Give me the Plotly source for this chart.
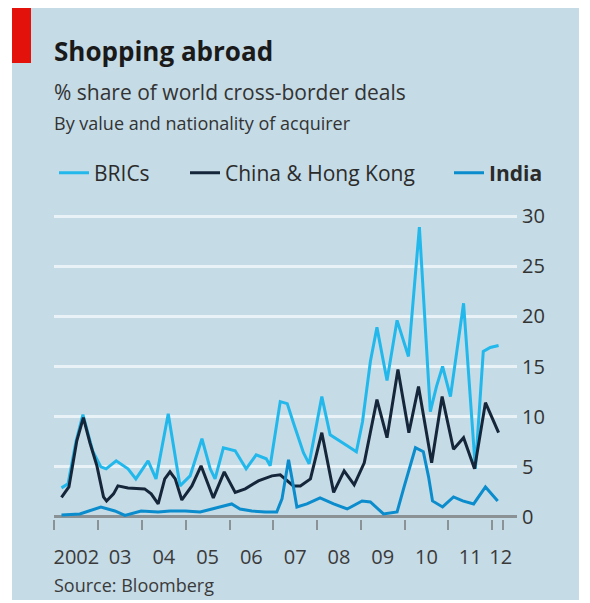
import plotly.graph_objects as go

# ---------------- data ----------------
t_brics = [2002.16, 2002.31, 2002.49, 2002.65, 2002.88, 2003.06, 2003.18, 2003.41, 2003.68, 2003.86,
           2004.14, 2004.32, 2004.60, 2004.76, 2004.87, 2005.10, 2005.37, 2005.56, 2005.67, 2005.86,
           2006.13, 2006.38, 2006.61, 2006.84, 2006.93, 2007.16, 2007.32, 2007.46, 2007.69, 2007.82,
           2008.11, 2008.30, 2008.53, 2008.69, 2008.90, 2009.04, 2009.22, 2009.37, 2009.60, 2009.83,
           2010.09, 2010.34, 2010.59, 2010.73, 2010.87, 2011.05, 2011.35, 2011.62, 2011.80, 2011.96,
           2012.15]
brics = [2.9, 3.3, 7.5, 10.2, 6.5, 5.0, 4.8, 5.6, 4.8, 3.8,
         5.6, 3.8, 10.3, 5.8, 3.1, 4.1, 7.8, 4.8, 3.8, 6.9,
         6.6, 4.8, 6.2, 5.8, 5.1, 11.5, 11.3, 9.4, 6.4, 5.3,
         12.0, 8.2, 7.6, 7.1, 6.5, 9.5, 15.5, 18.9, 13.6, 19.6,
         16.0, 28.9, 10.5, 13.0, 15.0, 12.0, 21.3, 4.8, 16.5, 16.9,
         17.1]

t_china = [2002.16, 2002.33, 2002.51, 2002.66, 2002.81, 2002.97, 2003.12, 2003.19, 2003.35, 2003.45,
           2003.68, 2004.06, 2004.21, 2004.37, 2004.52, 2004.64, 2004.76, 2004.91, 2005.14, 2005.35,
           2005.63, 2005.88, 2006.13, 2006.36, 2006.66, 2006.97, 2007.16, 2007.32, 2007.46, 2007.62,
           2007.85, 2008.11, 2008.38, 2008.62, 2008.85, 2009.08, 2009.37, 2009.60, 2009.85, 2010.10,
           2010.32, 2010.62, 2010.86, 2011.12, 2011.35, 2011.60, 2011.85, 2012.15]
china = [1.95, 3.0, 7.6, 9.9, 7.4, 5.1, 2.0, 1.6, 2.3, 3.1,
         2.9, 2.8, 2.3, 1.3, 3.8, 4.5, 3.8, 1.7, 3.1, 5.1,
         1.9, 4.5, 2.45, 2.8, 3.6, 4.1, 4.2, 3.6, 3.1, 3.1,
         3.8, 8.4, 2.45, 4.6, 3.2, 5.4, 11.7, 7.9, 14.7, 8.4,
         13.0, 5.4, 12.0, 6.75, 7.9, 4.8, 11.4, 8.4]

t_india = [2002.16, 2002.58, 2003.06, 2003.38, 2003.61, 2003.98, 2004.37, 2004.64, 2004.99, 2005.33,
           2005.60, 2006.05, 2006.24, 2006.51, 2006.82, 2007.08, 2007.20, 2007.35, 2007.43, 2007.54,
           2007.77, 2008.07, 2008.38, 2008.69, 2009.03, 2009.22, 2009.52, 2009.83, 2009.99, 2010.25,
           2010.43, 2010.55, 2010.64, 2010.87, 2011.12, 2011.33, 2011.58, 2011.85, 2012.13]
india = [0.2, 0.3, 1.0, 0.6, 0.15, 0.6, 0.5, 0.6, 0.6, 0.5,
         0.8, 1.3, 0.8, 0.6, 0.5, 0.5, 1.8, 5.7, 3.8, 1.0,
         1.3, 1.9, 1.3, 0.8, 1.6, 1.5, 0.3, 0.5, 3.0, 6.9,
         6.5, 4.0, 1.6, 1.0, 2.0, 1.6, 1.3, 3.0, 1.6]

year_ticks = [2002, 2003, 2004, 2005, 2006, 2007, 2008, 2009, 2010, 2011, 2012, 2012.25]
label_pos = [2002.5, 2003.5, 2004.5, 2005.5, 2006.5, 2007.5, 2008.5, 2009.5, 2010.5, 2011.5, 2012.2]
label_text = ["2002", "03", "04", "05", "06", "07", "08", "09", "10", "11", "12"]
y_ticks = [0, 5, 10, 15, 20, 25, 30]

# ---------------- styling ----------------
PANEL = "#c5dbe6"
C_BRICS = "#22b8eb"
C_CHINA = "#15263a"
C_INDIA = "#0b8ccc"
GRID = "#e9f2f6"
AXIS = "#8b9296"
FONT = "Open Sans"

fig = go.Figure()
fig.add_trace(go.Scatter(x=t_brics, y=brics, mode="lines", name="BRICs",
                         line=dict(color=C_BRICS, width=3), legend="legend"))
fig.add_trace(go.Scatter(x=t_china, y=china, mode="lines", name="China & Hong Kong",
                         line=dict(color=C_CHINA, width=3), legend="legend2"))
fig.add_trace(go.Scatter(x=t_india, y=india, mode="lines", name="<b>India</b>",
                         line=dict(color=C_INDIA, width=3), legend="legend3"))
# invisible trace to carry the label axis
fig.add_trace(go.Scatter(x=label_pos, y=[None] * len(label_pos), xaxis="x2", showlegend=False,
                         hoverinfo="skip"))

# page body has an 8px margin: reference pixel (px, py) -> paper coords
def px_x(px):
    return (px - 54) / 463

def px_y(py):
    return (519 - py) / 306

leg_common = dict(orientation="h", yanchor="middle", xanchor="left", bgcolor="rgba(0,0,0,0)",
                  font=dict(family=FONT, size=21, color="#2b2b2b"), itemwidth=30)

fig.update_layout(
    width=582, height=595,
    margin=dict(l=46, r=73, t=205, b=84),
    paper_bgcolor="white", plot_bgcolor=PANEL,
    font=dict(family=FONT, color="#333"),
    showlegend=True,
    legend=dict(x=px_x(54), y=px_y(173), **leg_common),
    legend2=dict(x=px_x(185), y=px_y(173), **leg_common),
    legend3=dict(x=px_x(449), y=px_y(173), **leg_common),
    xaxis=dict(range=[2001.989, 2012.571], tickvals=year_ticks, ticks="outside", ticklen=10,
               tickwidth=2, tickcolor=AXIS, showticklabels=False, showgrid=False,
               zeroline=False, showline=False, fixedrange=True),
    xaxis2=dict(range=[2001.989, 2012.571], overlaying="x", anchor="y", side="bottom",
                tickvals=label_pos, ticktext=label_text, ticks="", showgrid=False,
                zeroline=False, showline=False, ticklabelstandoff=24,
                tickfont=dict(family=FONT, size=20, color="#3a3a3a"), fixedrange=True),
    yaxis=dict(range=[-0.2, 30.3], side="right", tickvals=y_ticks, ticks="",
               showgrid=True, gridcolor=GRID, gridwidth=3,
               zeroline=True, zerolinecolor=AXIS, zerolinewidth=3, showline=False,
               ticklabelstandoff=4, tickfont=dict(family=FONT, size=20, color="#333"),
               fixedrange=True),
    shapes=[
        dict(type="rect", xref="paper", yref="paper", x0=px_x(12), x1=px_x(579),
             y0=px_y(600), y1=px_y(8), fillcolor=PANEL, line=dict(width=0), layer="below"),
        dict(type="rect", xref="paper", yref="paper", x0=px_x(12), x1=px_x(31),
             y0=px_y(63), y1=px_y(8), fillcolor="#e3120b", line=dict(width=0), layer="below"),
    ],
    annotations=[
        dict(text="<b>Shopping abroad</b>", x=px_x(52), y=px_y(51), xref="paper", yref="paper",
             xanchor="left", yanchor="middle", showarrow=False,
             font=dict(family=FONT, size=26, color="#1a1a1a")),
        dict(text="% share of world cross-border deals", x=px_x(52), y=px_y(92), xref="paper",
             yref="paper", xanchor="left", yanchor="middle", showarrow=False,
             font=dict(family=FONT, size=21, color="#333")),
        dict(text="By value and nationality of acquirer", x=px_x(52), y=px_y(123), xref="paper",
             yref="paper", xanchor="left", yanchor="middle", showarrow=False,
             font=dict(family=FONT, size=18, color="#333")),
        dict(text="Source: Bloomberg", x=px_x(52), y=px_y(585), xref="paper", yref="paper",
             xanchor="left", yanchor="middle", showarrow=False,
             font=dict(family=FONT, size=18, color="#3a3a3a")),
    ],
)

fig.write_html("out.html")
